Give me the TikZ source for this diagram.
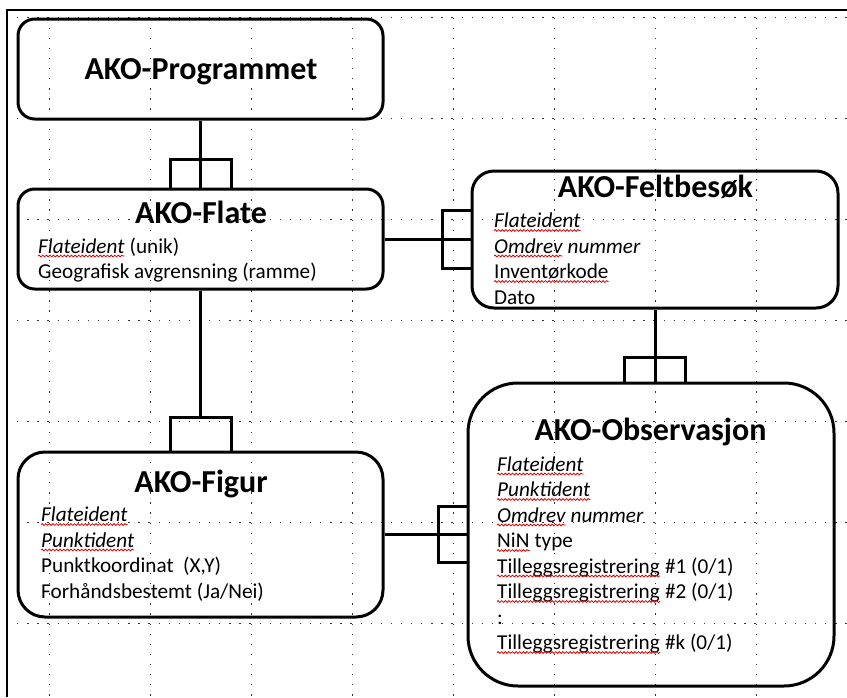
\documentclass[tikz,border=0pt]{standalone}
\usepackage{fontspec}
\setmainfont{Carlito}
\usetikzlibrary{decorations.pathmorphing}
\tikzset{
  entity/.style={draw, line width=3pt, rounded corners=#1, inner sep=0pt},
  title/.style={font=\fontsize{32}{38}\selectfont\bfseries, anchor=base, inner sep=0pt},
  attr/.style={font=\fontsize{21.2}{25.5}\selectfont, anchor=base west, inner sep=0pt},
  iattr/.style={attr, font=\fontsize{21.2}{25.5}\selectfont\itshape},
  link/.style={line width=3pt},
  gridline/.style={black!80, line width=1.3pt, dash pattern=on 1.3pt off 8.8pt},
  pageedge/.style={line width=2pt},
  spell/.style={red!90!black, line width=0.8pt, decorate,
    decoration={snake, segment length=3.6pt, amplitude=0.9pt}},
}
% red wavy mark under a word node
\newcommand\markword[1]{\draw[spell] ([yshift=-3pt]#1.base west) -- ([yshift=-3pt]#1.base east);}
\begin{document}
\begin{tikzpicture}[x=1pt,y=-1pt]
\useasboundingbox (0,0) rectangle (847,697);

% dotted layout grid
\foreach \y in {17.5,118.5,219.5,320.5,421.5,522.5,623.5}
  \draw[gridline] (7,\y) -- (847,\y);
\foreach \x in {49.5,150.5,251.5,352.5,453.5,554.5,655.5,756.5}
  \draw[gridline] (\x,17.5) -- (\x,697);

% page edge
\draw[pageedge] (7,697) -- (7,10) -- (847,10);

% entities
\node[entity=16.7pt, minimum width=365pt, minimum height=100pt] (prog)  at (200.5,69)    {};
\node[entity=16.7pt, minimum width=365pt, minimum height=100pt] (flate) at (200.5,239)   {};
\node[entity=22pt,   minimum width=366pt, minimum height=137pt] (felt)  at (655,239.5)   {};
\node[entity=27pt,   minimum width=365pt, minimum height=165pt] (figur) at (200.5,534.5) {};
\node[entity=50pt,   minimum width=366pt, minimum height=303pt] (obs)   at (651,534.5)   {};

% relationships (one-to-many)
\draw[link] (prog.south) -- (flate.north);
\draw[link] ([xshift=-30.5pt]flate.north) |- ([yshift=28pt]flate.north) -| ([xshift=30.5pt]flate.north);

\coordinate (c2) at (flate.east -| felt.west);
\draw[link] (flate.east) -- (c2);
\draw[link] ([yshift=29pt]c2) -| ([xshift=-28pt]c2) |- ([yshift=-29pt]c2);

\draw[link] (flate.south) -- ([yshift=33pt]figur.north);
\draw[link] ([xshift=-30.5pt]figur.north) |- ([yshift=33pt]figur.north) -| ([xshift=30.5pt]figur.north);

\coordinate (c4) at (felt.south |- obs.north);
\draw[link] (felt.south) -- (c4);
\draw[link] ([xshift=-30.5pt]c4) |- ([yshift=24pt]c4) -| ([xshift=30.5pt]c4);

\coordinate (c5) at (figur.east -| obs.west);
\draw[link] (figur.east) -- (c5);
\draw[link] ([yshift=28pt]c5) -| ([xshift=-28pt]c5) |- ([yshift=-28pt]c5);

% titles
\node[title] (progT)  at (201,79)   {AKO-Programmet};
\node[title] (flateT) at (201,223)  {AKO-Flate};
\node[title] (feltT)  at (655.5,197) {AKO-Feltbesøk};
\node[title] (figurT) at (201,492)  {AKO-Figur};
\node[title] (obsT)   at (650.5,440) {AKO-Observasjon};

% AKO-Flate attributes
\node[iattr] (flA1) at (38,253)   {Flateident};
\node[attr]  (flA1r) at (flA1.base east) {\ (unik)};
\node[attr]  (flA2) at (38,278.5) {Geografisk avgrensning (ramme)};

% AKO-Feltbesøk attributes
\node[iattr] (feA1) at (494,227.5) {Flateident};
\node[iattr] (feA2) at (494,253)   {Omdrev};
\node[iattr] (feA2r) at (feA2.base east) {\ nummer};
\node[attr]  (feA3) at (494,278.5) {Inventørkode};
\node[attr]  (feA4) at (494,304)   {Dato};

% AKO-Figur attributes
\node[iattr] (fiA1) at (41,521.5) {Flateident};
\node[iattr] (fiA2) at (41,547)   {Punktident};
\node[attr]  (fiA3) at (41,572.5) {Punktkoordinat\ \ (X,Y)};
\node[attr]  (fiA4) at (41,598)   {Forhåndsbestemt (Ja/Nei)};

% AKO-Observasjon attributes
\node[iattr] (obA1) at (497,471)   {Flateident};
\node[iattr] (obA2) at (497,496.5) {Punktident};
\node[iattr] (obA3) at (497,522)   {Omdrev};
\node[iattr] (obA3r) at (obA3.base east) {\ nummer};
\node[attr]  (obA4) at (497,547.5) {NiN};
\node[attr]  (obA4r) at (obA4.base east) {\ type};
\node[attr]  (obA5) at (497,573)   {Tilleggsregistrering};
\node[attr]  (obA5r) at (obA5.base east) {\ \#1 (0/1)};
\node[attr]  (obA6) at (497,598.5) {Tilleggsregistrering};
\node[attr]  (obA6r) at (obA6.base east) {\ \#2 (0/1)};
\node[attr]  (obA7) at (497,624)   {:};
\node[attr]  (obA8) at (497,649.5) {Tilleggsregistrering};
\node[attr]  (obA8r) at (obA8.base east) {\ \#k (0/1)};

% spelling marks
\foreach \w in {flA1,feA1,feA2,feA3,fiA1,fiA2,obA1,obA2,obA3,obA4,obA5,obA6,obA8}
  {\markword{\w}}
\end{tikzpicture}
\end{document}
